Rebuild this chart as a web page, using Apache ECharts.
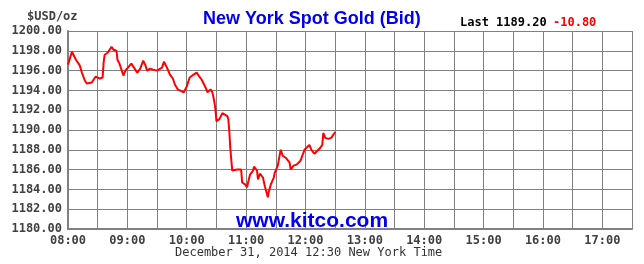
<!DOCTYPE html>
<html><head><meta charset="utf-8">
<script src="https://cdn.jsdelivr.net/npm/echarts@6/dist/echarts.min.js"></script>
<style>html,body{margin:0;padding:0;background:#fff}#c{width:644px;height:264px}</style>
</head><body><div id="c"></div>
<script>
const times = ["08:00","08:04","08:08","08:12","08:14","08:17","08:19","08:24","08:26","08:28","08:30","08:32","08:35","08:36","08:37","08:40","08:44","08:46","08:49","08:50","08:52","08:54","08:56","08:58","09:00","09:04","09:06","09:10","09:13","09:16","09:18","09:20","09:23","09:26","09:30","09:32","09:35","09:37","09:40","09:43","09:46","09:48","09:51","09:53","09:57","10:00","10:03","10:07","10:10","10:12","10:15","10:19","10:21","10:24","10:26","10:28","10:29","10:30","10:33","10:36","10:37","10:41","10:42","10:43","10:44","10:45","10:46","10:48","10:51","10:53","10:55","10:56","10:59","11:01","11:02","11:04","11:07","11:08","11:11","11:12","11:14","11:17","11:19","11:22","11:23","11:25","11:28","11:29","11:32","11:34","11:35","11:37","11:40","11:42","11:44","11:45","11:48","11:51","11:53","11:55","11:57","11:59","12:01","12:04","12:06","12:09","12:11","12:12","12:15","12:17","12:18","12:20","12:22","12:23","12:26","12:28","12:30"];
const prices = [1196.6,1197.9,1197.1,1196.5,1195.8,1195.0,1194.7,1194.8,1195.0,1195.4,1195.5,1195.2,1195.3,1196.8,1197.6,1197.8,1198.4,1198.1,1198.0,1197.1,1196.7,1196.5,1195.5,1196.0,1196.1,1196.7,1196.5,1195.8,1196.2,1197.0,1196.6,1196.0,1196.2,1196.1,1196.0,1195.8,1196.3,1196.9,1196.3,1195.6,1195.2,1194.6,1194.1,1194.1,1193.8,1194.4,1195.3,1195.6,1195.8,1195.5,1195.1,1194.3,1193.8,1194.1,1193.8,1192.8,1192.1,1190.9,1191.1,1191.7,1191.7,1191.4,1191.1,1189.9,1188.2,1187.0,1185.9,1186.0,1186.0,1185.9,1186.0,1184.7,1184.5,1184.2,1184.7,1185.5,1185.9,1186.3,1185.9,1185.0,1185.6,1185.2,1184.3,1183.2,1183.8,1184.5,1185.2,1185.7,1186.4,1187.5,1188.0,1187.4,1187.2,1187.1,1186.7,1186.0,1186.4,1186.5,1186.7,1186.9,1187.0,1188.0,1188.2,1188.5,1188.0,1187.6,1187.4,1187.9,1188.2,1188.5,1189.7,1189.2,1189.0,1189.1,1189.2,1189.5,1189.8];
const hourLabels = ["08:00","09:00","10:00","11:00","12:00","13:00","14:00","15:00","16:00","17:00"];
const titleText = "New York Spot Gold (Bid)";
const unitText = "$USD/oz";
const lastText = "Last 1189.20";
const changeText = "-10.80";
const dateText = "December 31, 2014 12:30 New York Time";
const siteText = "www.kitco.com";

function toMin(t){const p=t.split(':');return (+p[0]-8)*60+(+p[1]);}
const data = times.map((t,i)=>[toMin(t),prices[i]]);

const mono = '"DejaVu Sans Mono", monospace';
const chart = echarts.init(document.getElementById('c'));
chart.setOption({
  animation:false,
  backgroundColor:'#fff',
  grid:{left:68,right:12,top:31,bottom:35,containLabel:false},
  xAxis:{type:'value',min:0,max:570,interval:30,
    axisLine:{show:true,lineStyle:{color:'#808080',width:2}},
    axisTick:{show:false},
    splitLine:{show:true,lineStyle:{color:'#808080',width:1}},
    axisLabel:{margin:6,color:'#404040',fontFamily:mono,fontWeight:'bold',fontSize:12,
      showMinLabel:true,showMaxLabel:false,
      formatter:v=>{ if(v%60!==0) return ''; const h=hourLabels[v/60]; return h||''; }}
  },
  yAxis:{type:'value',min:1180,max:1200,interval:2,
    axisLine:{show:true,lineStyle:{color:'#808080',width:2}},
    axisTick:{show:false},
    splitLine:{show:true,lineStyle:{color:'#808080',width:1}},
    axisLabel:{margin:6,color:'#404040',fontFamily:mono,fontWeight:'bold',fontSize:12,
      formatter:v=>v.toFixed(2)}
  },
  series:[{type:'line',data:data,showSymbol:false,symbol:'none',
    lineStyle:{color:'#ff0000',width:2},z:5}],
  graphic:[
    {type:'text',left:313-110,top:10,style:{text:titleText,fill:'#0000ee',font:'bold 18px "Liberation Sans", Arial, sans-serif'}},
    {type:'text',left:27,top:11,style:{text:unitText,fill:'#404040',font:'bold 12px '+mono}},
    {type:'text',left:460,top:17,style:{text:lastText,fill:'#000',font:'bold 12px '+mono}},
    {type:'text',left:553,top:17,style:{text:changeText,fill:'#ff0000',font:'bold 12px '+mono}},
    {type:'text',left:175,top:247,style:{text:dateText,fill:'#333',font:'12px '+mono}},
    {type:'text',left:236,top:211,z:10,style:{text:siteText,fill:'#0000ee',font:'bold 21px "Liberation Sans", Arial, sans-serif'}}
  ]
});
</script></body></html>
